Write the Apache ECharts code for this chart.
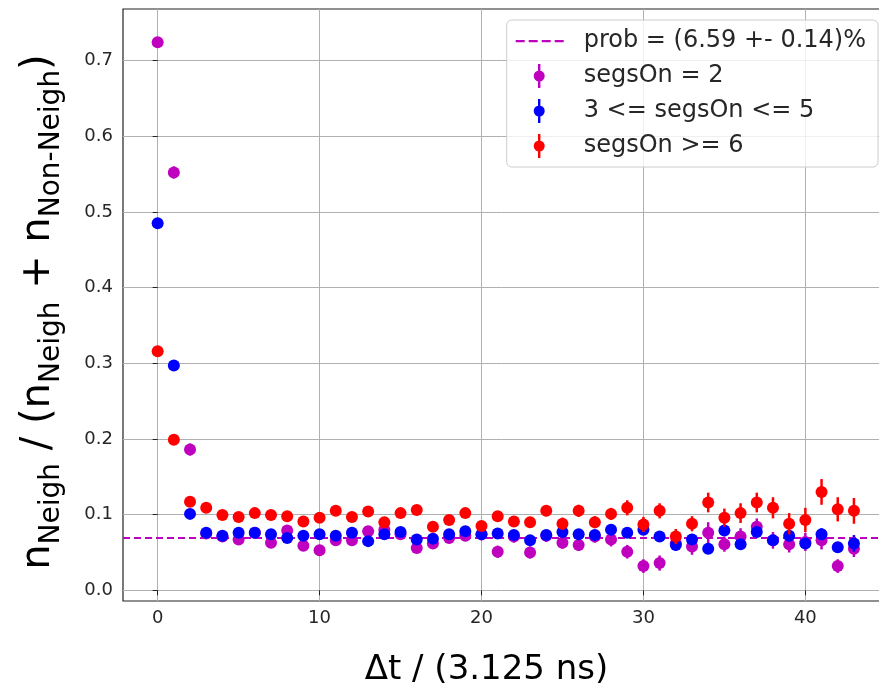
<!DOCTYPE html>
<html>
<head>
<meta charset="utf-8">
<script src="https://cdn.jsdelivr.net/npm/echarts@6/dist/echarts.min.js"></script>
<style>html,body{margin:0;padding:0;background:#fff}#c{width:879px;height:689px}</style>
</head>
<body>
<div id="c"></div>
<script>
const xValues = [0,1,2,3,4,5,6,7,8,9,10,11,12,13,14,15,16,17,18,19,20,21,22,23,24,25,26,27,28,29,30,31,32,33,34,35,36,37,38,39,40,41,42,43];
const seg2 = [0.724,0.552,0.186,0.075,0.071,0.067,0.076,0.063,0.079,0.059,0.053,0.066,0.066,0.078,0.080,0.074,0.056,0.062,0.069,0.072,0.074,0.051,0.071,0.050,0.072,0.063,0.060,0.071,0.067,0.051,0.032,0.036,0.062,0.058,0.076,0.061,0.071,0.084,0.066,0.061,0.064,0.066,0.032,0.055];
const seg2Err = [0.004,0.008,0.008,0.006,0.006,0.006,0.006,0.006,0.006,0.006,0.007,0.007,0.007,0.007,0.007,0.007,0.007,0.007,0.007,0.007,0.008,0.008,0.008,0.008,0.008,0.008,0.008,0.008,0.009,0.009,0.009,0.010,0.010,0.011,0.014,0.010,0.011,0.011,0.011,0.011,0.012,0.012,0.009,0.011];
const seg35 = [0.485,0.297,0.101,0.076,0.072,0.076,0.076,0.074,0.069,0.072,0.074,0.072,0.076,0.065,0.074,0.077,0.067,0.068,0.074,0.078,0.074,0.075,0.073,0.066,0.073,0.077,0.074,0.073,0.080,0.076,0.080,0.071,0.060,0.067,0.055,0.079,0.061,0.077,0.066,0.072,0.062,0.074,0.057,0.062];
const seg35Err = [0.003,0.003,0.003,0.003,0.003,0.003,0.003,0.003,0.003,0.003,0.003,0.003,0.003,0.003,0.003,0.003,0.004,0.004,0.004,0.004,0.004,0.004,0.004,0.004,0.004,0.004,0.005,0.005,0.005,0.005,0.005,0.005,0.005,0.005,0.007,0.007,0.007,0.007,0.007,0.007,0.007,0.008,0.007,0.011];
const seg6 = [0.316,0.199,0.117,0.109,0.0995,0.097,0.102,0.0995,0.098,0.091,0.096,0.105,0.097,0.104,0.090,0.102,0.106,0.084,0.093,0.102,0.085,0.098,0.091,0.090,0.105,0.088,0.105,0.090,0.101,0.109,0.087,0.105,0.071,0.088,0.116,0.096,0.102,0.116,0.109,0.088,0.093,0.130,0.107,0.105];
const seg6Err = [0.003,0.003,0.004,0.004,0.004,0.004,0.004,0.004,0.004,0.004,0.005,0.005,0.005,0.005,0.005,0.005,0.006,0.006,0.006,0.006,0.006,0.006,0.007,0.007,0.007,0.008,0.008,0.008,0.008,0.010,0.010,0.010,0.010,0.010,0.013,0.012,0.013,0.013,0.014,0.014,0.016,0.017,0.016,0.017];
const probValue = 0.0659;
const xTicks = [0,10,20,30,40];
const yTicks = [0,0.1,0.2,0.3,0.4,0.5,0.6,0.7];
const names = ['prob = (6.59 +- 0.14)%','segsOn = 2','3 <= segsOn <= 5','segsOn >= 6'];
const colors = ['#bf00bf','#bf00bf','#0000ff','#ff0000'];

const chart = echarts.init(document.getElementById('c'), null, {renderer:'canvas'});
const font = 'DejaVu Sans';
const ebIcon = 'path://M0,0 M49,24 M23.3,0h2.4v24h-2.4z M19,12a5.5,5.5 0 1,1 11,0a5.5,5.5 0 1,1 -11,0z';
const dashIcon = 'path://M0,0 M49,24 M1,11h9v2.2h-9z M14,11h9v2.2h-9z M27,11h9v2.2h-9z M40,11h9v2.2h-9z';

function errSeries(name, vals, errs, color, z) {
  return {
    name: name, type: 'custom', z: z, silent: true,
    data: xValues.map((x, i) => [x, vals[i], errs[i]]),
    renderItem: function (params, api) {
      const x = api.value(0), y = api.value(1), e = api.value(2);
      const p1 = api.coord([x, y - e]);
      const p2 = api.coord([x, y + e]);
      return {type:'line', shape:{x1:p1[0], y1:p1[1], x2:p2[0], y2:p2[1]}, style:{stroke: color, lineWidth: 2.5}};
    },
    itemStyle: {color: color}
  };
}
function ptSeries(name, vals, color, z) {
  return {
    name: name, type: 'scatter', z: z, symbol: 'circle', symbolSize: 12, silent: true,
    data: xValues.map((x, i) => [x, vals[i]]),
    itemStyle: {color: color, opacity: 1}
  };
}

const option = {
  animation: false,
  backgroundColor: '#fff',
  grid: {left: 123, right: -1, top: 9, bottom: 88, show: true, borderColor: '#222', borderWidth: 1.2,
    backgroundColor: 'transparent', containLabel: false, outerBoundsMode: 'none'},
  xAxis: {
    type: 'value', min: -2.14, max: 44.61,
    axisLine: {show: false},
    axisTick: {show: true, length: 5, lineStyle: {color: '#222', width: 1}, customValues: xTicks},
    axisLabel: {customValues: xTicks, fontFamily: font, fontSize: 18, color: '#262626', margin: 8},
    splitLine: {show: true, lineStyle: {color: '#b0b0b0', width: 1}},
    name: '\u0394t / (3.125 ns)', nameLocation: 'middle', nameGap: 52,
    nameTextStyle: {fontFamily: font, fontSize: 34, color: '#000', padding: [0, 30, 0, 0]}
  },
  yAxis: {
    type: 'value', min: -0.0141, max: 0.768,
    axisLine: {show: false},
    axisTick: {show: true, length: 5, lineStyle: {color: '#222', width: 1}, customValues: yTicks},
    axisLabel: {customValues: yTicks, fontFamily: font, fontSize: 18, color: '#262626', margin: 10,
      formatter: v => v.toFixed(1)},
    splitLine: {show: true, lineStyle: {color: '#b0b0b0', width: 1}},
    name: '{m|n}{s|Neigh}{m| / (n}{s|Neigh}{m| + n}{s|Non-Neigh}{m|)}',
    nameLocation: 'middle', nameRotate: 90, nameGap: 64,
    nameTextStyle: {
      fontFamily: font, color: '#000', padding: [0, 14, 0, 0],
      rich: {
        m: {fontFamily: font, fontSize: 40, lineHeight: 40, verticalAlign: 'top', color: '#000'},
        s: {fontFamily: font, fontSize: 28, lineHeight: 28, verticalAlign: 'top', padding: [19,0,0,0], color: '#000'}
      }
    }
  },
  legend: {
    orient: 'vertical', right: 1, top: 20,
    itemWidth: 49, itemHeight: 24, itemGap: 11,
    padding: [9, 12, 9, 8],
    backgroundColor: 'rgba(255,255,255,0.8)', borderColor: '#cccccc', borderWidth: 1, borderRadius: 5,
    textStyle: {fontFamily: font, fontSize: 24, color: '#262626', padding: [0,0,0,15]},
    data: names.map((n, i) => ({name: n, icon: i === 0 ? dashIcon : ebIcon, itemStyle: {color: colors[i]}}))
  },
  series: [
    {
      name: names[0], type: 'line', data: [], z: 1, symbol: 'none', silent: true,
      itemStyle: {color: colors[0]},
      lineStyle: {color: colors[0], type: [7,4], width: 2},
      markLine: {
        silent: true, symbol: 'none', label: {show: false},
        lineStyle: {color: colors[0], type: [7,4], width: 2},
        data: [{yAxis: probValue}]
      }
    },
    errSeries(names[1], seg2, seg2Err, colors[1], 2),
    ptSeries(names[1], seg2, colors[1], 3),
    errSeries(names[2], seg35, seg35Err, colors[2], 4),
    ptSeries(names[2], seg35, colors[2], 5),
    errSeries(names[3], seg6, seg6Err, colors[3], 6),
    ptSeries(names[3], seg6, colors[3], 7)
  ]
};
chart.setOption(option);
</script>
</body>
</html>
